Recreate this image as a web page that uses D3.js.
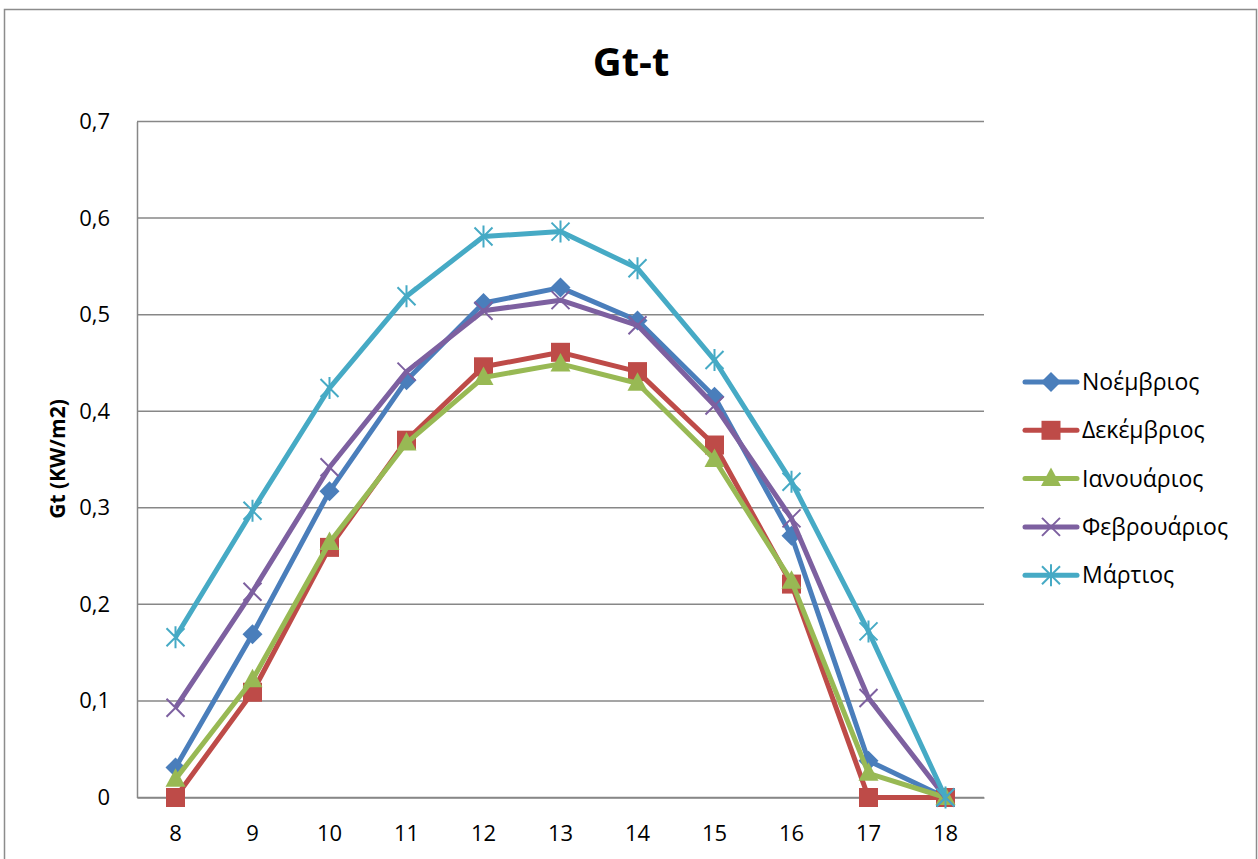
<!DOCTYPE html>
<html>
<head>
<meta charset="utf-8">
<script src="https://cdn.jsdelivr.net/npm/d3@7"></script>
<style>
  html, body { margin: 0; padding: 0; background: #fff; }
  svg { display: block; }
  text { font-family: "Open Sans", "Noto Sans", sans-serif; fill: #000; }
</style>
</head>
<body>
<svg id="chart" width="1258" height="859"></svg>
<script>
// Hours of the day (category axis)
const hours = ["8", "9", "10", "11", "12", "13", "14", "15", "16", "17", "18"];

// Solar irradiance Gt (KW/m2) per hour, one array per month
const noemvrios   = [0.031, 0.169, 0.317, 0.432, 0.512, 0.528, 0.494, 0.415, 0.271, 0.038, 0];
const dekemvrios  = [0.000, 0.109, 0.259, 0.370, 0.446, 0.461, 0.441, 0.365, 0.221, 0.000, 0];
const ianouarios  = [0.019, 0.122, 0.264, 0.367, 0.435, 0.449, 0.429, 0.350, 0.224, 0.025, 0];
const fevrouarios = [0.093, 0.213, 0.342, 0.441, 0.504, 0.515, 0.489, 0.406, 0.289, 0.103, 0];
const martios     = [0.166, 0.297, 0.424, 0.519, 0.581, 0.586, 0.548, 0.453, 0.327, 0.172, 0];

const seriesNames = ["Νοέμβριος", "Δεκέμβριος", "Ιανουάριος", "Φεβρουάριος", "Μάρτιος"];
const seriesValues = [noemvrios, dekemvrios, ianouarios, fevrouarios, martios];
const yTicks = [0, 0.1, 0.2, 0.3, 0.4, 0.5, 0.6, 0.7];

const colors = ["#4A7EBB", "#BE4B48", "#98B954", "#7D60A0", "#46AAC5"];
const markers = ["diamond", "square", "triangle", "cross", "star"];

const svg = d3.select("#chart");

// outer chart frame
svg.append("rect")
  .attr("x", 4.5).attr("y", 9.5)
  .attr("width", 1252).attr("height", 860)
  .attr("fill", "#fff").attr("stroke", "#8c8c8c").attr("stroke-width", 1.5);

const plot = { left: 137, right: 984, top: 121.5, bottom: 797.5 };

const x = d3.scaleBand().domain(hours).range([plot.left, plot.right]);
const y = d3.scaleLinear().domain([0, 0.7]).range([plot.bottom, plot.top]);
const cx = h => x(h) + x.bandwidth() / 2;

// horizontal gridlines
svg.append("g")
  .selectAll("line")
  .data(yTicks)
  .join("line")
  .attr("x1", plot.left).attr("x2", plot.right)
  .attr("y1", d => y(d)).attr("y2", d => y(d))
  .attr("stroke", "#878787").attr("stroke-width", 1.5);

// y axis
const yAxis = svg.append("g")
  .attr("transform", `translate(${plot.left},0)`)
  .call(d3.axisLeft(y).tickValues(yTicks).tickSize(0).tickPadding(27)
    .tickFormat(d => d3.format(".1f")(d).replace(".", ",").replace(/^0,0$/, "0")));
yAxis.select(".domain").attr("stroke", "#878787").attr("stroke-width", 1.5);
yAxis.selectAll("text").attr("font-size", 22).attr("fill", "#000")
  .style("font-family", "'Open Sans', sans-serif");

// x axis
const xAxis = svg.append("g")
  .attr("transform", `translate(0,${plot.bottom})`)
  .call(d3.axisBottom(x).tickSize(0).tickPadding(28));
xAxis.select(".domain").attr("stroke", "#878787").attr("stroke-width", 1.5);
xAxis.selectAll("text").attr("font-size", 22).attr("fill", "#000")
  .style("font-family", "'Open Sans', sans-serif");

// title
svg.append("text")
  .attr("x", 631).attr("y", 76)
  .attr("text-anchor", "middle")
  .attr("font-size", 40).attr("font-weight", "bold")
  .text("Gt-t");

// y axis title
svg.append("text")
  .attr("transform", "translate(65,459) rotate(-90)")
  .attr("text-anchor", "middle")
  .attr("font-size", 21).attr("font-weight", "bold")
  .text("Gt (KW/m2)");

// marker drawing helper
function drawMarker(g, type, color, px, py) {
  if (type === "diamond") {
    g.append("path")
      .attr("d", `M${px},${py - 10}L${px + 10},${py}L${px},${py + 10}L${px - 10},${py}Z`)
      .attr("fill", color);
  } else if (type === "square") {
    g.append("rect")
      .attr("x", px - 9.5).attr("y", py - 9.5).attr("width", 19).attr("height", 19)
      .attr("fill", color);
  } else if (type === "triangle") {
    g.append("path")
      .attr("d", `M${px},${py - 11}L${px + 10},${py + 7.5}L${px - 10},${py + 7.5}Z`)
      .attr("fill", color);
  } else if (type === "cross") {
    g.append("path")
      .attr("d", `M${px - 9},${py - 9}L${px + 9},${py + 9}M${px - 9},${py + 9}L${px + 9},${py - 9}`)
      .attr("stroke", color).attr("stroke-width", 2).attr("fill", "none");
  } else if (type === "star") {
    g.append("path")
      .attr("d", `M${px - 9},${py - 9}L${px + 9},${py + 9}M${px - 9},${py + 9}L${px + 9},${py - 9}M${px},${py - 11}L${px},${py + 11}`)
      .attr("stroke", color).attr("stroke-width", 2).attr("fill", "none");
  }
}

const line = d3.line().x((d, i) => cx(hours[i])).y(d => y(d));

seriesValues.forEach((vals, si) => {
  const g = svg.append("g");
  g.append("path")
    .datum(vals)
    .attr("d", line)
    .attr("fill", "none")
    .attr("stroke", colors[si])
    .attr("stroke-width", 5)
    .attr("stroke-linejoin", "round");
  vals.forEach((v, i) => drawMarker(g, markers[si], colors[si], cx(hours[i]), y(v)));
});

// legend
const legend = svg.append("g");
seriesNames.forEach((name, i) => {
  const ly = 382 + i * 48.3;
  legend.append("line")
    .attr("x1", 1025).attr("x2", 1077).attr("y1", ly).attr("y2", ly)
    .attr("stroke", colors[i]).attr("stroke-width", 5).attr("stroke-linecap", "round");
  drawMarker(legend, markers[i], colors[i], 1051, ly);
  legend.append("text")
    .attr("x", 1082).attr("y", ly + 8)
    .attr("font-size", 23)
    .text(name);
});
</script>
</body>
</html>
